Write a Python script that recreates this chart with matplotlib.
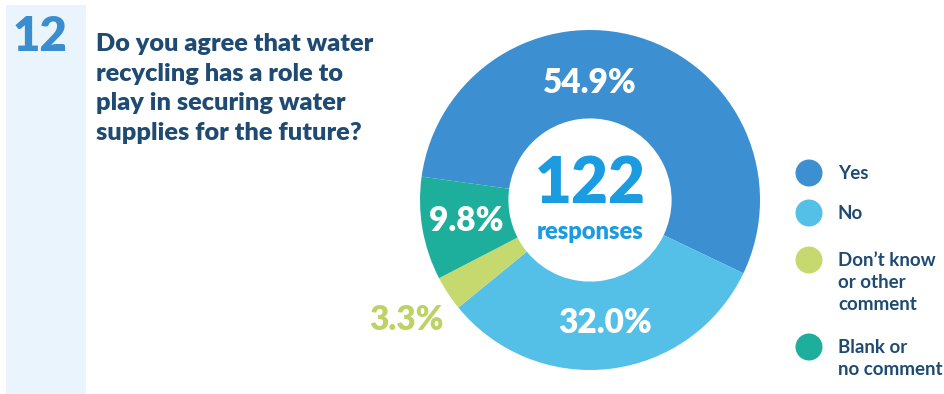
import numpy as np
import matplotlib
matplotlib.use("Agg")
import matplotlib.pyplot as plt
from matplotlib.patches import Rectangle, Circle

plt.rcParams['font.family'] = ['Lato', 'DejaVu Sans']

# dados da pergunta 12
categorias = ["Yes", "No", "Don\u2019t know\nor other\ncomment", "Blank or\nno comment"]
percentuais = [54.9, 32.0, 3.3, 9.8]
rotulos = ["54.9%", "32.0%", "3.3%", "9.8%"]
cores = ["#3C8FD0", "#54C0E8", "#C6D96E", "#1EAE9C"]
total_respostas = "122"
numero_pergunta = "12"
titulo = "Do you agree that water\nrecycling has a role to\nplay in securing water\nsupplies for the future?"

W, H = 945, 394
AZUL_ESCURO = "#1F4B73"


def px(x, y):
    # converte pixel (origem no topo) para fracao da figura
    return x / W, 1 - y / H


fig = plt.figure(figsize=(W / 100, H / 100), dpi=100)
fig.patch.set_facecolor("white")

# faixa lateral azul clara
fig.patches.append(Rectangle(px(6, 394), 80 / W, 389 / H, transform=fig.transFigure,
                             facecolor="#EAF4FC", edgecolor="none"))
fig.text(*px(40, 37), numero_pergunta, fontsize=34, fontweight="heavy", color="#3A8ED0",
         ha="center", va="center")
fig.text(*px(96, 33), titulo, fontsize=18.2, fontweight="heavy", color=AZUL_ESCURO,
         ha="left", va="top", linespacing=1.42)

# rosca
cx, cy, R = 590, 200, 170
ax = fig.add_axes([(cx - R) / W, (H - cy - R) / H, 2 * R / W, 2 * R / H])
fatias, _ = ax.pie(percentuais, colors=cores, startangle=172.1, counterclock=False,
                   radius=1.0, wedgeprops=dict(width=0.52, edgecolor="none"))
ax.set_xlim(-1, 1)
ax.set_ylim(-1, 1)
ax.axis("off")

# posicao dos rotulos: (angulo forcado ou None, raio, cor)
ajustes = [(90, 0.69, "white"), (None, 0.73, "white"), (None, 1.29, "#BDD264"), (None, 0.74, "white")]
for fatia, rot, (ang, r, cor) in zip(fatias, rotulos, ajustes):
    if ang is None:
        ang = (fatia.theta1 + fatia.theta2) / 2
    a = np.deg2rad(ang)
    ax.text(r * np.cos(a), r * np.sin(a), rot, fontsize=24, fontweight="heavy", color=cor,
            ha="center", va="center", clip_on=False)

ax.text(0, 0.09, total_respostas, fontsize=46, fontweight="heavy", color="#1B9BE0",
        ha="center", va="center")
ax.text(0, -0.19, "responses", fontsize=17, fontweight="heavy", color="#1B9BE0",
        ha="center", va="center")

# legenda
legenda_y = [173, 213, 260, 347]
for cor, texto, y in zip(cores, categorias, legenda_y):
    fig.patches.append(Circle((809 / 100, (H - y) / 100), 0.135, transform=fig.dpi_scale_trans,
                              facecolor=cor, edgecolor="none"))
    fig.text(*px(838, y - 8), texto, fontsize=13.5, fontweight="bold", color=AZUL_ESCURO,
             ha="left", va="top", linespacing=1.36)

fig.savefig("out.png", dpi=100)
